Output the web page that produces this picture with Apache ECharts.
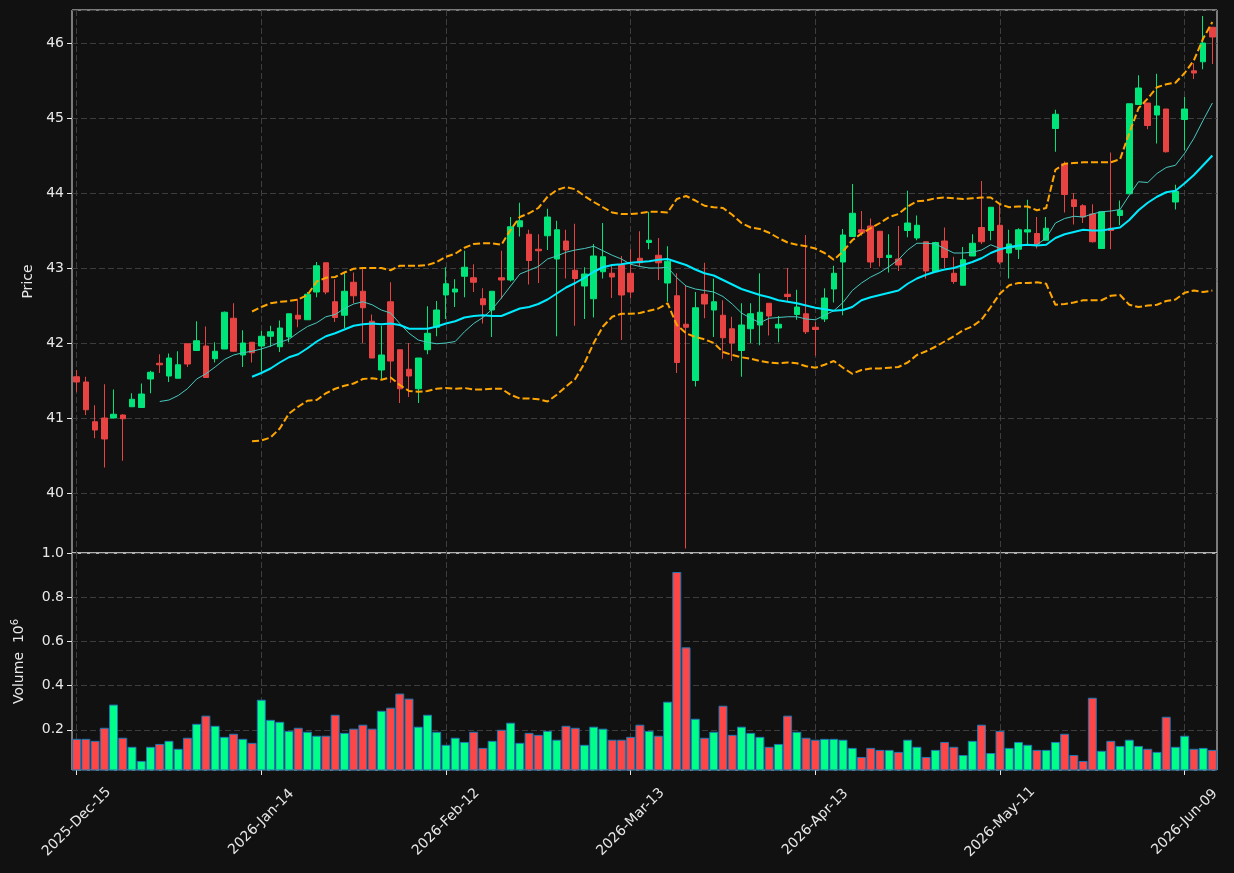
<!DOCTYPE html>
<html>
<head>
<meta charset="utf-8">
<script src="https://cdn.jsdelivr.net/npm/echarts@6/dist/echarts.min.js"></script>
<style>
    html, body { margin: 0; padding: 0; background: #111111; }
    #main { width: 1234px; height: 873px; }
</style>
</head>
<body>
<div id="main"></div>
<script>
// trading calendar
var startDate = '2025-12-15';
var barCount = 124;
var holidays = ['2025-12-25', '2026-01-01', '2026-01-19', '2026-02-16', '2026-04-03', '2026-05-25'];
var monthNames = ['Jan', 'Feb', 'Mar', 'Apr', 'May', 'Jun', 'Jul', 'Aug', 'Sep', 'Oct', 'Nov', 'Dec'];
var labelEvery = 20;

var opens = [41.55, 41.48, 40.95, 41.00, 41.00, 41.04, 41.15, 41.14, 41.52, 41.73,
    41.56, 41.53, 41.99, 41.90, 41.96, 41.79, 41.92, 42.33, 41.84, 42.01,
    41.96, 42.09, 41.95, 42.08, 42.37, 42.31, 42.68, 43.07, 42.55, 42.37,
    42.81, 42.69, 42.29, 41.64, 42.55, 41.91, 41.65, 41.39, 41.91, 42.21,
    42.64, 42.68, 42.89, 42.87, 42.59, 42.44, 42.87, 42.84, 43.55, 43.45,
    43.25, 43.43, 43.12, 43.36, 42.97, 42.76, 42.59, 42.95, 42.93, 43.04,
    42.93, 43.13, 43.34, 43.17, 42.80, 42.63, 42.25, 41.50, 42.65, 42.44,
    42.37, 42.19, 41.90, 42.19, 42.24, 42.53, 42.20, 42.65, 42.38, 42.39,
    42.21, 42.32, 42.72, 43.08, 43.42, 43.51, 43.56, 43.49, 43.14, 43.12,
    43.50, 43.40, 43.35, 42.95, 43.36, 42.93, 42.77, 43.16, 43.54, 43.50,
    43.57, 43.20, 43.25, 43.48, 43.46, 43.37, 44.86, 44.39, 43.91, 43.83,
    43.72, 43.26, 43.53, 43.70, 43.99, 45.18, 45.20, 45.04, 45.12, 43.88,
    44.98, 45.63, 45.75, 46.21];
var closes = [41.48, 41.11, 40.84, 40.72, 41.05, 40.99, 41.25, 41.32, 41.61, 41.71,
    41.80, 41.71, 41.72, 42.03, 41.54, 41.89, 42.41, 41.89, 42.00, 41.87,
    42.09, 42.15, 42.20, 42.39, 42.32, 42.65, 43.03, 42.68, 42.34, 42.69,
    42.63, 42.47, 41.80, 41.84, 41.76, 41.39, 41.56, 41.80, 42.13, 42.44,
    42.79, 42.72, 43.01, 42.81, 42.51, 42.69, 42.84, 43.55, 43.63, 43.10,
    43.23, 43.68, 43.51, 43.24, 42.86, 42.92, 43.16, 43.15, 42.88, 42.64,
    42.68, 43.07, 43.37, 43.07, 43.09, 41.74, 42.21, 42.47, 42.52, 42.55,
    42.07, 42.00, 42.24, 42.39, 42.41, 42.36, 42.25, 42.62, 42.48, 42.15,
    42.18, 42.60, 42.93, 43.44, 43.73, 43.47, 43.08, 43.14, 43.17, 43.04,
    43.60, 43.57, 42.96, 43.34, 43.14, 42.82, 43.11, 43.33, 43.35, 43.81,
    43.08, 43.32, 43.51, 43.51, 43.32, 43.53, 45.05, 43.98, 43.82, 43.68,
    43.35, 43.75, 43.50, 43.77, 45.19, 45.40, 44.90, 45.16, 44.55, 44.02,
    45.12, 45.60, 46.00, 46.08];
var lows = [41.35, 41.04, 40.73, 40.34, 41.00, 40.43, 41.15, 41.14, 41.33, 41.60,
    41.48, 41.53, 41.68, 41.90, 41.54, 41.74, 41.92, 41.89, 41.68, 41.74,
    41.62, 41.95, 41.88, 42.01, 42.21, 42.31, 42.61, 42.65, 42.28, 42.20,
    42.53, 42.00, 41.80, 41.52, 41.47, 41.20, 41.28, 41.20, 41.85, 42.09,
    42.32, 42.48, 42.61, 42.68, 42.26, 42.08, 42.59, 42.82, 43.42, 42.78,
    42.80, 43.24, 42.09, 42.86, 42.23, 42.32, 42.34, 42.86, 42.60, 42.04,
    42.60, 43.02, 43.25, 42.84, 42.55, 41.60, 39.26, 41.42, 42.33, 42.08,
    41.79, 41.76, 41.55, 42.00, 41.97, 42.10, 42.01, 42.55, 42.31, 42.12,
    41.83, 42.28, 42.54, 42.37, 43.42, 43.43, 43.00, 43.02, 42.94, 42.96,
    43.41, 43.37, 42.86, 42.95, 43.00, 42.79, 42.77, 43.16, 43.32, 43.37,
    43.05, 42.86, 43.12, 43.32, 43.26, 43.37, 44.55, 43.74, 43.58, 43.60,
    43.34, 43.26, 43.25, 43.57, 43.99, 45.18, 44.85, 44.66, 44.54, 43.78,
    44.57, 45.52, 45.65, 45.72];
var highs = [41.64, 41.55, 41.17, 41.45, 41.38, 41.05, 41.33, 41.46, 41.63, 41.85,
    41.86, 41.89, 41.99, 42.29, 42.22, 42.01, 42.42, 42.53, 42.17, 42.01,
    42.16, 42.23, 42.30, 42.39, 42.59, 42.68, 43.08, 43.07, 42.85, 42.95,
    42.94, 43.00, 42.38, 42.23, 42.81, 41.91, 42.00, 41.80, 42.49, 42.56,
    43.01, 42.85, 43.23, 43.05, 42.73, 42.69, 43.23, 43.68, 43.87, 43.51,
    43.45, 43.79, 43.63, 43.51, 43.59, 43.01, 43.32, 43.60, 43.04, 43.16,
    43.25, 43.49, 43.75, 43.40, 43.29, 42.93, 42.76, 42.68, 43.07, 42.86,
    42.57, 42.35, 42.53, 42.53, 42.93, 42.53, 42.36, 43.00, 42.71, 43.44,
    42.28, 42.73, 43.03, 43.52, 44.12, 43.76, 43.66, 43.49, 43.45, 43.56,
    44.03, 43.70, 43.35, 43.35, 43.54, 43.15, 43.28, 43.45, 44.16, 43.81,
    43.84, 43.51, 43.53, 43.91, 43.68, 43.68, 45.11, 44.42, 44.00, 43.85,
    43.85, 43.75, 44.54, 43.90, 45.19, 45.57, 45.20, 45.59, 45.12, 44.11,
    45.28, 45.73, 46.36, 46.21];
// volume, millions
var volumes = [0.159, 0.159, 0.150, 0.209, 0.314, 0.164, 0.123, 0.059, 0.123, 0.136,
    0.150, 0.114, 0.164, 0.227, 0.264, 0.218, 0.168, 0.182, 0.159, 0.141,
    0.336, 0.245, 0.236, 0.195, 0.209, 0.191, 0.173, 0.173, 0.268, 0.186,
    0.205, 0.223, 0.205, 0.286, 0.300, 0.364, 0.341, 0.214, 0.268, 0.191,
    0.132, 0.164, 0.145, 0.191, 0.118, 0.150, 0.200, 0.232, 0.141, 0.186,
    0.177, 0.195, 0.155, 0.218, 0.209, 0.132, 0.214, 0.205, 0.155, 0.155,
    0.168, 0.223, 0.195, 0.173, 0.327, 0.914, 0.573, 0.250, 0.164, 0.191,
    0.309, 0.177, 0.214, 0.186, 0.168, 0.123, 0.136, 0.264, 0.191, 0.164,
    0.155, 0.159, 0.159, 0.155, 0.118, 0.077, 0.118, 0.109, 0.109, 0.100,
    0.155, 0.123, 0.077, 0.109, 0.145, 0.123, 0.086, 0.150, 0.223, 0.095,
    0.195, 0.118, 0.145, 0.132, 0.109, 0.109, 0.145, 0.182, 0.086, 0.059,
    0.345, 0.105, 0.150, 0.127, 0.155, 0.127, 0.114, 0.100, 0.259, 0.123,
    0.173, 0.114, 0.118, 0.109];

// overlays, starting at bar 9 (short) and bar 19 (long / bands)
var maShort = [41.22, 41.24, 41.30, 41.39, 41.52, 41.59, 41.68, 41.78, 41.84, 41.87,
    41.89, 41.92, 41.96, 42.01, 42.05, 42.14, 42.22, 42.27, 42.35, 42.38,
    42.46, 42.52, 42.55, 42.51, 42.44, 42.40, 42.26, 42.13, 42.04, 42.01,
    41.99, 42.00, 42.02, 42.15, 42.26, 42.34, 42.45, 42.60, 42.76, 42.92,
    42.97, 43.02, 43.12, 43.16, 43.21, 43.24, 43.26, 43.29, 43.23, 43.17,
    43.12, 43.05, 43.02, 43.00, 43.00, 43.01, 42.87, 42.76, 42.72, 42.70,
    42.68, 42.62, 42.52, 42.40, 42.33, 42.27, 42.33, 42.34, 42.35, 42.35,
    42.32, 42.31, 42.37, 42.43, 42.54, 42.70, 42.80, 42.88, 42.94, 43.02,
    43.11, 43.24, 43.33, 43.33, 43.32, 43.26, 43.20, 43.20, 43.21, 43.24,
    43.31, 43.26, 43.26, 43.29, 43.31, 43.31, 43.40, 43.60, 43.66, 43.69,
    43.68, 43.72, 43.75, 43.76, 43.78, 43.97, 44.15, 44.14, 44.26, 44.34,
    44.37, 44.53, 44.73, 44.97, 45.20];
var maLong = [41.55, 41.60, 41.66, 41.74, 41.81, 41.85, 41.93, 42.02, 42.09, 42.13,
    42.18, 42.23, 42.25, 42.26, 42.25, 42.26, 42.24, 42.19, 42.19, 42.19,
    42.22, 42.26, 42.29, 42.34, 42.36, 42.37, 42.36, 42.36, 42.41, 42.46,
    42.48, 42.52, 42.58, 42.66, 42.74, 42.80, 42.87, 42.95, 43.01, 43.04,
    43.05, 43.07, 43.08, 43.09, 43.11, 43.12, 43.08, 43.04, 42.98, 42.93,
    42.90, 42.84, 42.78, 42.72, 42.68, 42.64, 42.61, 42.57, 42.55, 42.53,
    42.50, 42.47, 42.45, 42.43, 42.44, 42.48, 42.57, 42.61, 42.64, 42.67,
    42.70, 42.79, 42.86, 42.91, 42.95, 42.98, 43.00, 43.04, 43.08, 43.13,
    43.20, 43.25, 43.28, 43.30, 43.31, 43.30, 43.31, 43.40, 43.45, 43.48,
    43.51, 43.50, 43.50, 43.52, 43.54, 43.64, 43.77, 43.87, 43.95, 44.01,
    44.03, 44.13, 44.24, 44.37, 44.50];
var bandUpper = [42.42, 42.48, 42.53, 42.55, 42.56, 42.58, 42.64, 42.82, 42.87, 42.88,
    42.94, 42.99, 43.00, 43.00, 43.00, 42.97, 43.03, 43.03, 43.03, 43.04,
    43.08, 43.15, 43.19, 43.27, 43.32, 43.33, 43.33, 43.31, 43.51, 43.68,
    43.73, 43.80, 43.95, 44.04, 44.08, 44.05, 43.96, 43.88, 43.81, 43.74,
    43.72, 43.72, 43.73, 43.75, 43.75, 43.74, 43.92, 43.96, 43.90, 43.83,
    43.81, 43.80, 43.71, 43.60, 43.54, 43.52, 43.47, 43.40, 43.34, 43.31,
    43.29, 43.26, 43.20, 43.11, 43.22, 43.37, 43.46, 43.53, 43.60, 43.68,
    43.72, 43.82, 43.89, 43.90, 43.93, 43.94, 43.93, 43.92, 43.93, 43.94,
    43.94, 43.85, 43.81, 43.82, 43.82, 43.77, 43.80, 44.31, 44.39, 44.40,
    44.41, 44.41, 44.41, 44.41, 44.45, 44.80, 45.13, 45.26, 45.41, 45.45,
    45.47, 45.60, 45.77, 46.06, 46.28];
var bandLower = [40.69, 40.70, 40.74, 40.86, 41.06, 41.15, 41.23, 41.24, 41.33, 41.39,
    41.43, 41.46, 41.52, 41.53, 41.51, 41.54, 41.44, 41.36, 41.35, 41.36,
    41.39, 41.40, 41.39, 41.40, 41.38, 41.38, 41.39, 41.39, 41.31, 41.26,
    41.26, 41.25, 41.22, 41.31, 41.42, 41.52, 41.73, 42.00, 42.22, 42.35,
    42.39, 42.39, 42.40, 42.43, 42.46, 42.53, 42.24, 42.13, 42.08, 42.05,
    42.00, 41.88, 41.84, 41.81, 41.79, 41.76, 41.74, 41.73, 41.74, 41.73,
    41.69, 41.67, 41.71, 41.76, 41.67, 41.59, 41.64, 41.66, 41.66, 41.67,
    41.68, 41.74, 41.84, 41.89, 41.95, 42.02, 42.09, 42.17, 42.22, 42.31,
    42.48, 42.66, 42.77, 42.80, 42.80, 42.81, 42.79, 42.51, 42.52, 42.54,
    42.57, 42.57, 42.57, 42.63, 42.64, 42.51, 42.48, 42.50, 42.51, 42.56,
    42.58, 42.67, 42.70, 42.68, 42.70];

var upCandle = '#00e57a';
var downCandle = '#e84343';
var upVol = '#00ff88';
var downVol = '#ff4646';
var textColor = '#e8e8e8';
var gridColor = '#3d3d3d';
var frameColor = '#e6e6e6';
var fontFamily = 'DejaVu Sans';

function tradingDays(start, n) {
    var out = [];
    var d = new Date(start + 'T00:00:00Z');
    while (out.length < n) {
        var iso = d.toISOString().slice(0, 10);
        var wd = d.getUTCDay();
        if (wd !== 0 && wd !== 6 && holidays.indexOf(iso) < 0) {
            out.push(iso.slice(0, 4) + '-' + monthNames[d.getUTCMonth()] + '-' + iso.slice(8, 10));
        }
        d.setUTCDate(d.getUTCDate() + 1);
    }
    return out;
}

function padFront(arr, total) {
    var out = [];
    for (var i = 0; i < total - arr.length; i++) out.push(null);
    return out.concat(arr);
}

var dates = tradingDays(startDate, barCount);

var candleData = [];
var volData = [];
for (var i = 0; i < barCount; i++) {
    candleData.push([opens[i], closes[i], lows[i], highs[i]]);
    volData.push({
        value: volumes[i],
        itemStyle: { color: closes[i] >= opens[i] ? upVol : downVol }
    });
}

var everyLabel = function (idx) { return idx % labelEvery === 0; };

var myChart = echarts.init(document.getElementById('main'));

var option = {
    backgroundColor: '#111111',
    animation: false,
    textStyle: { fontFamily: fontFamily },
    grid: [
        { left: 72, right: 17, top: 10, height: 543, show: true, borderColor: frameColor, borderWidth: 1, backgroundColor: 'transparent' },
        { left: 72, right: 17, top: 553, height: 217, show: true, borderColor: frameColor, borderWidth: 1, backgroundColor: 'transparent' }
    ],
    xAxis: [
        {
            type: 'category',
            gridIndex: 0,
            data: dates,
            boundaryGap: true,
            axisLine: { show: false },
            axisTick: { show: false },
            axisLabel: { show: false },
            splitLine: {
                show: true,
                alignWithLabel: true,
                interval: everyLabel,
                lineStyle: { color: gridColor, type: [6, 3], width: 1 }
            }
        },
        {
            type: 'category',
            gridIndex: 1,
            data: dates,
            boundaryGap: true,
            axisLine: { show: false },
            axisTick: {
                show: true,
                alignWithLabel: true,
                interval: everyLabel,
                length: 5,
                lineStyle: { color: frameColor }
            },
            axisLabel: {
                interval: everyLabel,
                rotate: 45,
                align: 'center',
                verticalAlign: 'middle',
                color: textColor,
                fontSize: 14,
                fontFamily: fontFamily,
                margin: 52
            },
            splitLine: {
                show: true,
                alignWithLabel: true,
                interval: everyLabel,
                lineStyle: { color: gridColor, type: [6, 3], width: 1 }
            }
        }
    ],
    yAxis: [
        {
            type: 'value',
            gridIndex: 0,
            min: 39.2,
            max: 46.44,
            name: 'Price',
            nameLocation: 'middle',
            nameGap: 37,
            nameTextStyle: { color: textColor, fontSize: 14, fontFamily: fontFamily },
            axisLine: { show: false },
            axisTick: { show: true, length: 5, lineStyle: { color: frameColor } },
            axisLabel: {
                color: textColor,
                fontSize: 14,
                fontFamily: fontFamily,
                margin: 8,
                showMinLabel: false,
                showMaxLabel: false
            },
            splitLine: { show: true, lineStyle: { color: gridColor, type: [6, 3], width: 1 } }
        },
        {
            type: 'value',
            gridIndex: 1,
            min: 0.018,
            max: 1.0,
            name: 'Volume  10{sup|6}',
            nameLocation: 'middle',
            nameGap: 44,
            nameTextStyle: {
                color: textColor,
                fontSize: 14,
                fontFamily: fontFamily,
                rich: {
                    sup: { fontSize: 10, color: textColor, verticalAlign: 'top', padding: [0, 0, 8, 0] }
                }
            },
            axisLine: { show: false },
            axisTick: { show: true, length: 5, lineStyle: { color: frameColor } },
            axisLabel: {
                color: textColor,
                fontSize: 14,
                fontFamily: fontFamily,
                margin: 8,
                showMinLabel: false,
                formatter: function (v) { return v.toFixed(1); }
            },
            splitLine: { show: true, lineStyle: { color: gridColor, type: [6, 3], width: 1 } }
        }
    ],
    series: [
        {
            name: 'price',
            type: 'candlestick',
            xAxisIndex: 0,
            yAxisIndex: 0,
            barWidth: '65%',
            data: candleData,
            itemStyle: {
                color: upCandle,
                color0: downCandle,
                borderColor: upCandle,
                borderColor0: downCandle,
                borderWidth: 1
            }
        },
        {
            name: 'ma short',
            type: 'line',
            xAxisIndex: 0,
            yAxisIndex: 0,
            data: padFront(maShort, barCount),
            showSymbol: false,
            symbol: 'none',
            lineStyle: { color: '#48c9bf', width: 1 }
        },
        {
            name: 'ma long',
            type: 'line',
            xAxisIndex: 0,
            yAxisIndex: 0,
            data: padFront(maLong, barCount),
            showSymbol: false,
            symbol: 'none',
            lineStyle: { color: '#00eaff', width: 2 }
        },
        {
            name: 'upper',
            type: 'line',
            xAxisIndex: 0,
            yAxisIndex: 0,
            data: padFront(bandUpper, barCount),
            showSymbol: false,
            symbol: 'none',
            lineStyle: { color: '#ffa500', width: 2, type: [7, 3] }
        },
        {
            name: 'lower',
            type: 'line',
            xAxisIndex: 0,
            yAxisIndex: 0,
            data: padFront(bandLower, barCount),
            showSymbol: false,
            symbol: 'none',
            lineStyle: { color: '#ffa500', width: 2, type: [7, 3] }
        },
        {
            name: 'volume',
            type: 'bar',
            xAxisIndex: 1,
            yAxisIndex: 1,
            barCategoryGap: '3%',
            data: volData,
            itemStyle: { borderColor: '#1f77b4', borderWidth: 1 }
        }
    ]
};

myChart.setOption(option);

window.addEventListener('resize', function () {
    myChart.resize();
});
</script>
</body>
</html>
